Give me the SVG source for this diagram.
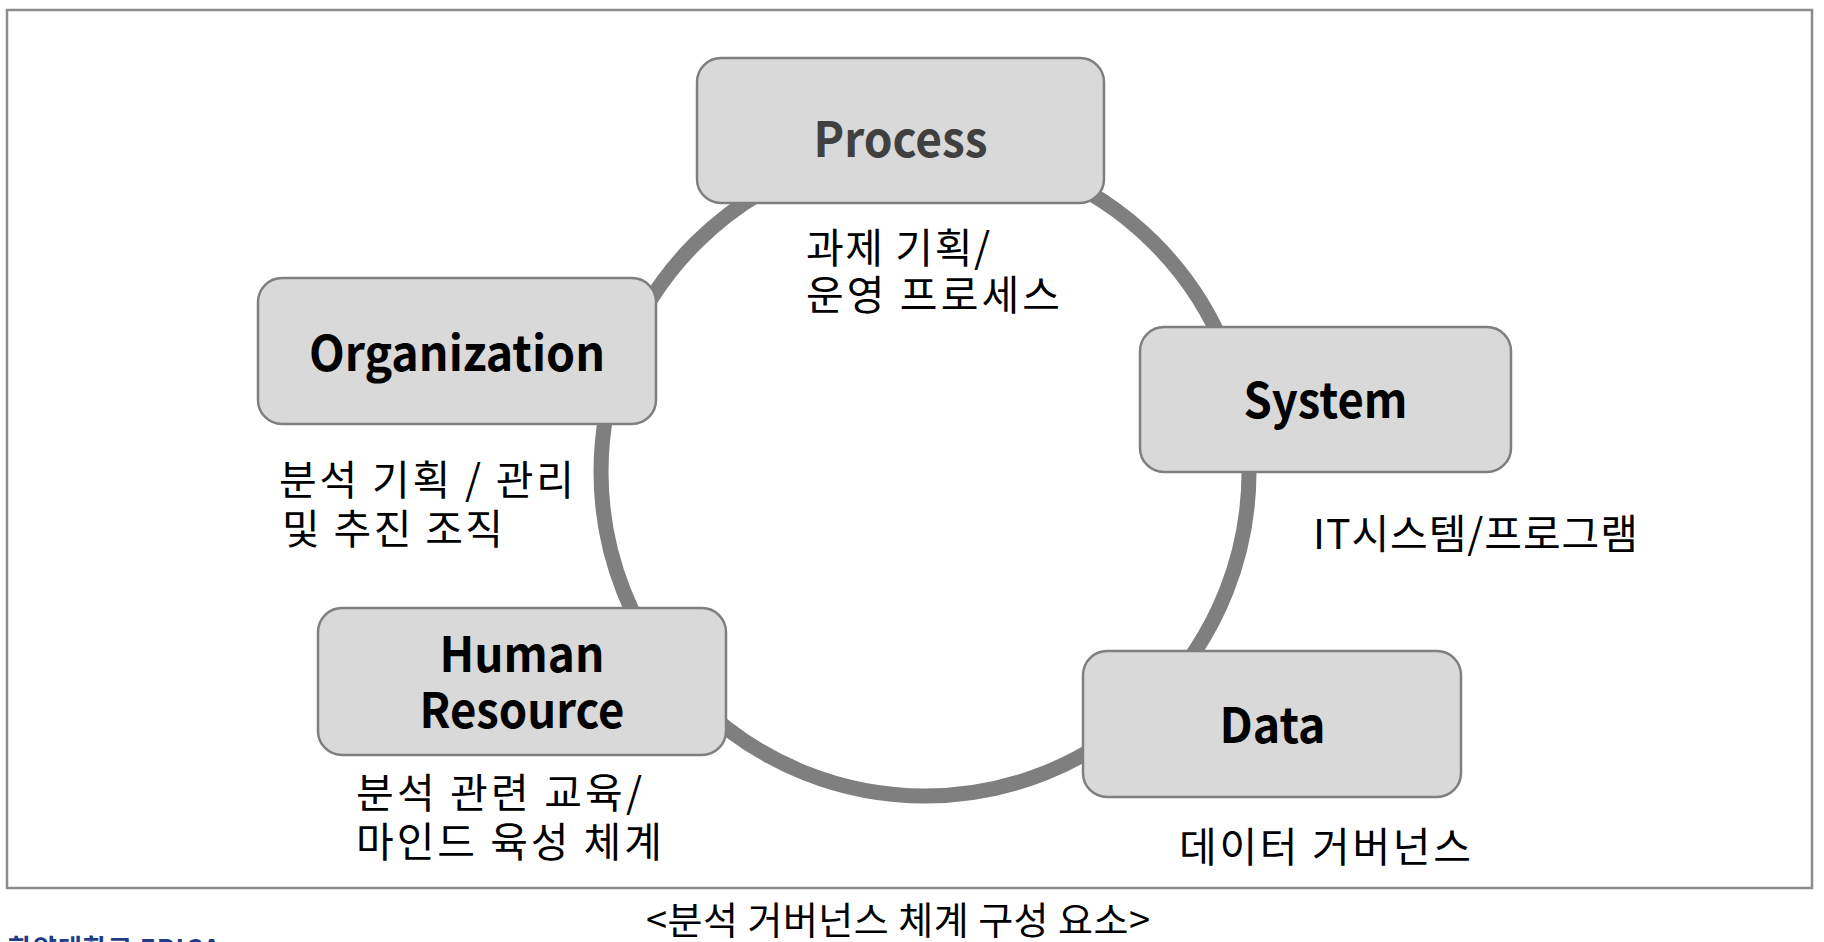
<svg xmlns="http://www.w3.org/2000/svg" width="1824" height="942" viewBox="0 0 1824 942">
<style>
.box{fill:#d9d9d9;stroke:#7f7f7f;stroke-width:2.5}
.title{font-family:"Noto Sans CJK KR","Noto Sans",sans-serif;font-weight:700;font-size:49px;fill:#000;text-anchor:middle}
.desc{font-family:"Noto Sans CJK KR",sans-serif;font-size:41px;fill:#000}
.ring{fill:none;stroke:#7f7f7f;stroke-width:15}
</style>
<rect x="0" y="0" width="1824" height="942" fill="#fff"/>
<rect x="7" y="10" width="1805" height="878" fill="#fff" stroke="#8c8c8c" stroke-width="2.5"/>
<g id="connectors">
<circle class="ring" cx="925" cy="472" r="324"/>
</g>
<g id="process">
<rect class="box" x="697" y="58" width="407" height="145" rx="24"/>
<text class="title" x="900.5" y="157" textLength="174" lengthAdjust="spacingAndGlyphs" style="fill:#404040">Process</text>
<text class="desc" x="806" y="263" textLength="184" lengthAdjust="spacing">과제 기획/</text>
<text class="desc" x="806" y="310" textLength="254" lengthAdjust="spacing">운영 프로세스</text>
</g>
<g id="organization">
<rect class="box" x="258" y="278" width="398" height="146" rx="24"/>
<text class="title" x="457" y="371" textLength="296" lengthAdjust="spacingAndGlyphs">Organization</text>
<text class="desc" x="279" y="495" textLength="295" lengthAdjust="spacing" xml:space="preserve">분석 기획 / 관리</text>
<text class="desc" x="282" y="544" textLength="221" lengthAdjust="spacing">및 추진 조직</text>
</g>
<g id="system">
<rect class="box" x="1140" y="327" width="371" height="145" rx="24"/>
<text class="title" x="1325.5" y="418" textLength="164" lengthAdjust="spacingAndGlyphs">System</text>
<text class="desc" x="1313" y="549" textLength="325" lengthAdjust="spacing">IT시스템/프로그램</text>
</g>
<g id="human-resource">
<rect class="box" x="318" y="608" width="408" height="147" rx="24"/>
<text class="title" x="522" y="672" textLength="165" lengthAdjust="spacingAndGlyphs">Human</text>
<text class="title" x="522" y="728" textLength="205" lengthAdjust="spacingAndGlyphs">Resource</text>
<text class="desc" x="356" y="808" textLength="286" lengthAdjust="spacing">분석 관련 교육/</text>
<text class="desc" x="356" y="857" textLength="306" lengthAdjust="spacing">마인드 육성 체계</text>
</g>
<g id="data">
<rect class="box" x="1083" y="651" width="378" height="146" rx="24"/>
<text class="title" x="1272.5" y="743" textLength="106" lengthAdjust="spacingAndGlyphs">Data</text>
<text class="desc" x="1179" y="862" textLength="292" lengthAdjust="spacing">데이터 거버넌스</text>
</g>
<text x="646" y="934" font-family="'Noto Sans CJK KR',sans-serif" font-size="38" fill="#000" textLength="504" lengthAdjust="spacing">&lt;분석 거버넌스 체계 구성 요소&gt;</text>
<text x="8" y="958" font-family="'Noto Sans CJK KR',sans-serif" font-size="26" font-weight="700" fill="#1f3c88" textLength="212" lengthAdjust="spacing">한양대학교 ERICA</text>
</svg>
